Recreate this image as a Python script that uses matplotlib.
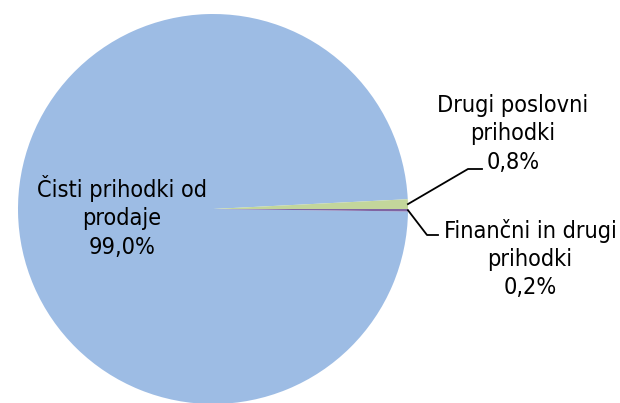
import numpy as np
import matplotlib.pyplot as plt

# data
labels = ["Čisti prihodki od\nprodaje", "Drugi poslovni\nprihodki", "Finančni in drugi\nprihodki"]
values = [99.0, 0.8, 0.2]
pct_labels = ["99,0%", "0,8%", "0,2%"]
colors = ["#9DBCE4", "#C3D69B", "#8064A2"]

W, H = 620, 403
cx, cy, R = 213, 209, 195  # pie centre / radius in pixels


def px(x, y):
    # pixel coords -> data coords (pie radius = 1)
    return (x - cx) / R, (cy - y) / R


fig = plt.figure(figsize=(W / 100, H / 100), dpi=100)
ax = fig.add_axes([0, 0, 1, 1])

start = -360 * values[2] / 100
wedges, _ = ax.pie(values, colors=colors, startangle=start, counterclock=False,
                   radius=1, center=(0, 0), frame=True)
ax.set_xlim(-cx / R, (W - cx) / R)
ax.set_ylim((cy - H) / R, cy / R)
ax.axis("off")

txt = dict(ha="center", va="center", fontsize=16.8, linespacing=1.28,
           family="DejaVu Sans", fontstretch="condensed")
ax.text(*px(122, 217), labels[0] + "\n" + pct_labels[0], **txt)
ax.text(*px(513, 134), labels[1] + "\n" + pct_labels[1], **txt)
ax.text(*px(530, 259), labels[2] + "\n" + pct_labels[2], **txt)

# leader lines
for w, (ex, ey), (hx, hy) in [(wedges[1], (468, 169), (482, 169)),
                              (wedges[2], (427, 235), (438, 235))]:
    ang = np.deg2rad((w.theta1 + w.theta2) / 2)
    x0, y0 = np.cos(ang), np.sin(ang)
    x1, y1 = px(ex, ey)
    x2, y2 = px(hx, hy)
    ax.plot([x0, x1, x2], [y0, y1, y2], color="black", lw=1.3)

fig.savefig("out.png", dpi=100)
